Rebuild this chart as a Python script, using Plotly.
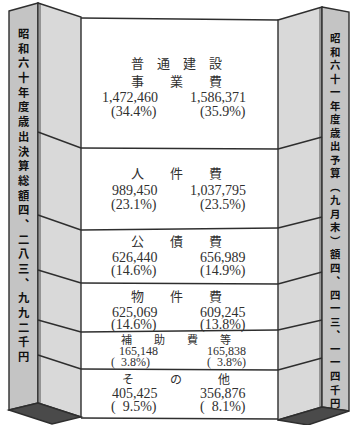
import plotly.graph_objects as go

# ---------------- data ----------------
categories = [["普　通　建　設", "事　　業　　費"], ["人　　件　　費"], ["公　　債　　費"],
              ["物　　件　　費"], ["補　　助　　費　　等"], ["そ　　　の　　　他"]]
values_s60 = [1472460, 989450, 626440, 625069, 165148, 405425]
values_s61 = [1586371, 1037795, 656989, 609245, 165838, 356876]
pct_s60 = [34.4, 23.1, 14.6, 14.6, 3.8, 9.5]
pct_s61 = [35.9, 23.5, 14.9, 13.8, 3.8, 8.1]
title_s60 = "昭和六十年度歳出決算総額四︑二八三︑九九二千円"
title_s61 = "昭和六十一年度歳出予算︵九月末︶額四︑四一三︑一一四千円"

# ---------------- layout geometry (illustration positions) ----------------
W, H = 351, 425
LINE = "#2e2e2e"
FRONT = "#c4c4c4"
SIDE = "#d9d9d9"
BASE = "#4a4a4a"
CX0, CX1 = 81, 278           # centre panel edges
band_left = [148, 230, 283, 332, 369]   # divider y at centre-left edge
band_right = [149, 228, 284, 330, 370]  # divider y at centre-right edge
pillar_left = [132, 215, 270, 320, 355]
pillar_right = [137, 217, 272, 320, 358]
# text rows: heading y list, value y, percent y
rows = [([62, 80], 97, 112), ([172], 190, 205), ([240], 257, 271),
        ([295], 312, 325), ([339], 350.5, 362), ([378], 393, 407)]
head_size = [13, 13, 13, 13, 11, 12]
num_size = [14, 14, 14, 14, 12, 14]

fig = go.Figure()
fig.add_trace(go.Scatter(x=[0, W], y=[0, H], mode="markers", marker=dict(opacity=0),
                         hoverinfo="skip", showlegend=False))

def poly(pts, fill, width=1.4):
    d = "M " + " L ".join(f"{x},{y}" for x, y in pts) + " Z"
    fig.add_shape(type="path", path=d, xref="x", yref="y", fillcolor=fill,
                  line=dict(color=LINE, width=width), layer="below")

def seg(x0, y0, x1, y1, width=1.4):
    fig.add_shape(type="line", x0=x0, y0=y0, x1=x1, y1=y1, xref="x", yref="y",
                  line=dict(color=LINE, width=width), layer="above")

# centre panel lines
seg(CX0, 18, CX1, 20)
seg(CX0, 418, CX1, 419)
for yl, yr in zip(band_left, band_right):
    seg(CX0, yl, CX1, yr)

# left pillar
poly([(9, 11), (38, 3), (38, 403), (9, 410)], FRONT)
poly([(38, 3), (81, 17), (81, 417), (38, 403)], SIDE)
poly([(9, 410), (38, 403), (81, 417), (52, 424)], BASE)
seg(40, 4, 40, 403, 0.8)
for yp, yc in zip(pillar_left, band_left):
    seg(38, yp, 81, yc)

# right pillar
poly([(278, 20), (322, 7), (322, 407), (278, 420)], SIDE)
poly([(322, 7), (349, 12), (349, 411), (322, 407)], FRONT)
poly([(278, 420), (322, 407), (349, 411), (308, 425)], BASE)
seg(320, 8, 320, 407, 0.8)
for yp, yc in zip(pillar_right, band_right):
    seg(278, yc, 322, yp)

JP = "Noto Sans CJK JP"
NUM = "Liberation Serif"
TXT = "#303030"

def ann(x, y, text, size, family, xanchor="center", weight="normal", color=TXT):
    fig.add_annotation(x=x, y=y, xref="x", yref="y", text=text, showarrow=False,
                       xanchor=xanchor, yanchor="middle", align="center",
                       font=dict(size=size, family=family, color=color, weight=weight))

def fmt_pct(p):
    s = f"{p:.1f}%"
    if p < 10:
        s = "\u2007" + s
    return f"({s})"

for i, cat in enumerate(categories):
    heads, vy, py = rows[i]
    for line, hy in zip(cat, heads):
        ann(176, hy, line, head_size[i], JP)
    ns = num_size[i]
    ann(160, vy, f"{values_s60[i]:,}", ns, NUM, xanchor="right")
    ann(248, vy, f"{values_s61[i]:,}", ns, NUM, xanchor="right")
    ann(109, py, fmt_pct(pct_s60[i]), ns, NUM, xanchor="left")
    ann(248, py, fmt_pct(pct_s61[i]), ns, NUM, xanchor="right")

# vertical pillar titles
ann(24, 194.5, "<br>".join(title_s60), 11.3, JP, weight="bold", color="#111111")
ann(335, 219.5, "<br>".join(title_s61), 10.4, JP, weight="bold", color="#111111")

fig.update_layout(width=W, height=H, margin=dict(l=0, r=0, t=0, b=0),
                  paper_bgcolor="white", plot_bgcolor="white", showlegend=False,
                  xaxis=dict(range=[0, W], visible=False, fixedrange=True),
                  yaxis=dict(range=[H, 0], visible=False, fixedrange=True))
fig.write_html("out.html", config={"displayModeBar": False},
               post_script="document.body.style.margin='0';document.body.style.overflow='hidden';")
